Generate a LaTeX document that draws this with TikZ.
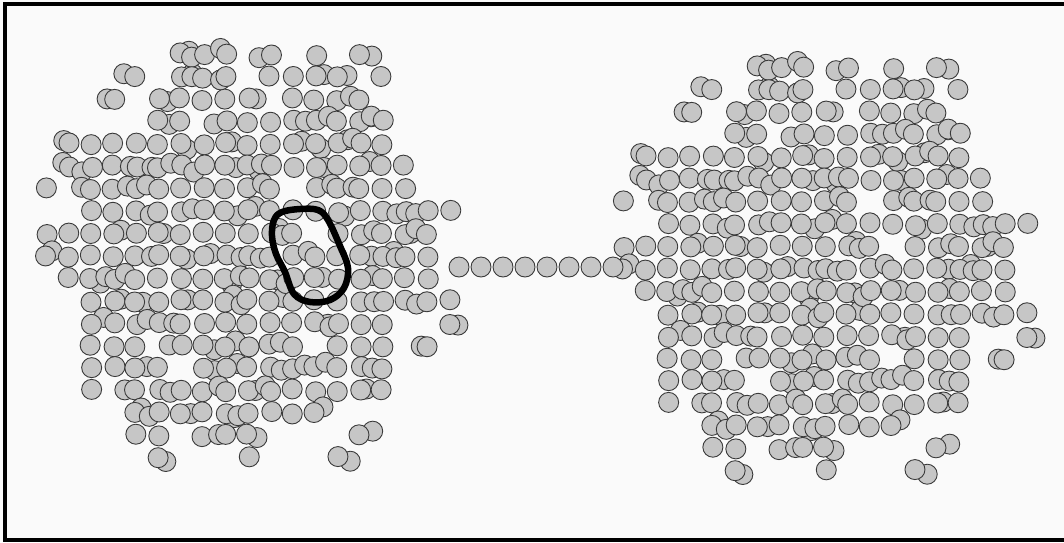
\documentclass[tikz,border=0pt]{standalone}
\usetikzlibrary{calc}
\definecolor{beadgray}{HTML}{C6C6C6}
\definecolor{beadedge}{HTML}{3A3A3A}
\definecolor{paper}{HTML}{FAFAFA}
\tikzset{
  bead/.style={draw=beadedge, fill=beadgray, line width=0.9pt},
  blob/.style={draw=black, line width=6.5pt, line join=round},
  frame/.style={draw=black, line width=4.5pt},
}
% one crystallite of beads on a square lattice, some sites doubled
\newcommand{\beadcluster}[2]{%
  \pgfmathsetseed{4711}%
  \begin{scope}[shift={(#1,#2)}]
  \foreach \i in {-9,...,9}{
    \foreach \j in {-9,...,9}{
      \pgfmathtruncatemacro\keep{(sqrt(\i*\i+\j*\j)+3.2*rnd<10.6 && rnd>0.07) ? 1 : 0}
      \pgfmathsetmacro\jx{1.5*rand}
      \pgfmathsetmacro\jy{1.5*rand}
      \pgfmathtruncatemacro\twin{(rnd<0.45) ? 1 : 0}
      \pgfmathsetmacro\ox{(rnd<0.5 ? -1 : 1)*(5+8*rnd)}
      \pgfmathsetmacro\oy{6*rand}
      \ifnum\keep=1
        \ifnum\twin=1
          \draw[bead] (\i*22.4+\ox,\j*22.4+\oy) circle[radius=10pt];
        \fi
        \draw[bead] (\i*22.4+\jx,\j*22.4+\jy) circle[radius=10pt];
      \fi
    }
  }
  \end{scope}}

\begin{document}
\begin{tikzpicture}[x=1pt,y=-1pt]
  \useasboundingbox (0,0) rectangle (1064,542);
  \clip (0,0) rectangle (1064,542);
  \fill[paper] (0,0) rectangle (1064,542);
  % two clusters
  \beadcluster{248}{256}
  \beadcluster{825}{269}
  % the chain between them
  \foreach \k in {0,...,7}
    \draw[bead] (459+22*\k,267) circle[radius=10pt];
  % marked region
  \draw[blob] plot[smooth cycle, tension=0.6] coordinates {
    (282,212) (300,209) (318,210) (328,220) (340,246) (348,268)
    (344,288) (330,300) (310,302) (294,294) (285,272) (276,254)
    (272,236) (274,220)};
  \draw[frame] (4.8,4) rectangle (1070,540);
\end{tikzpicture}
\end{document}
